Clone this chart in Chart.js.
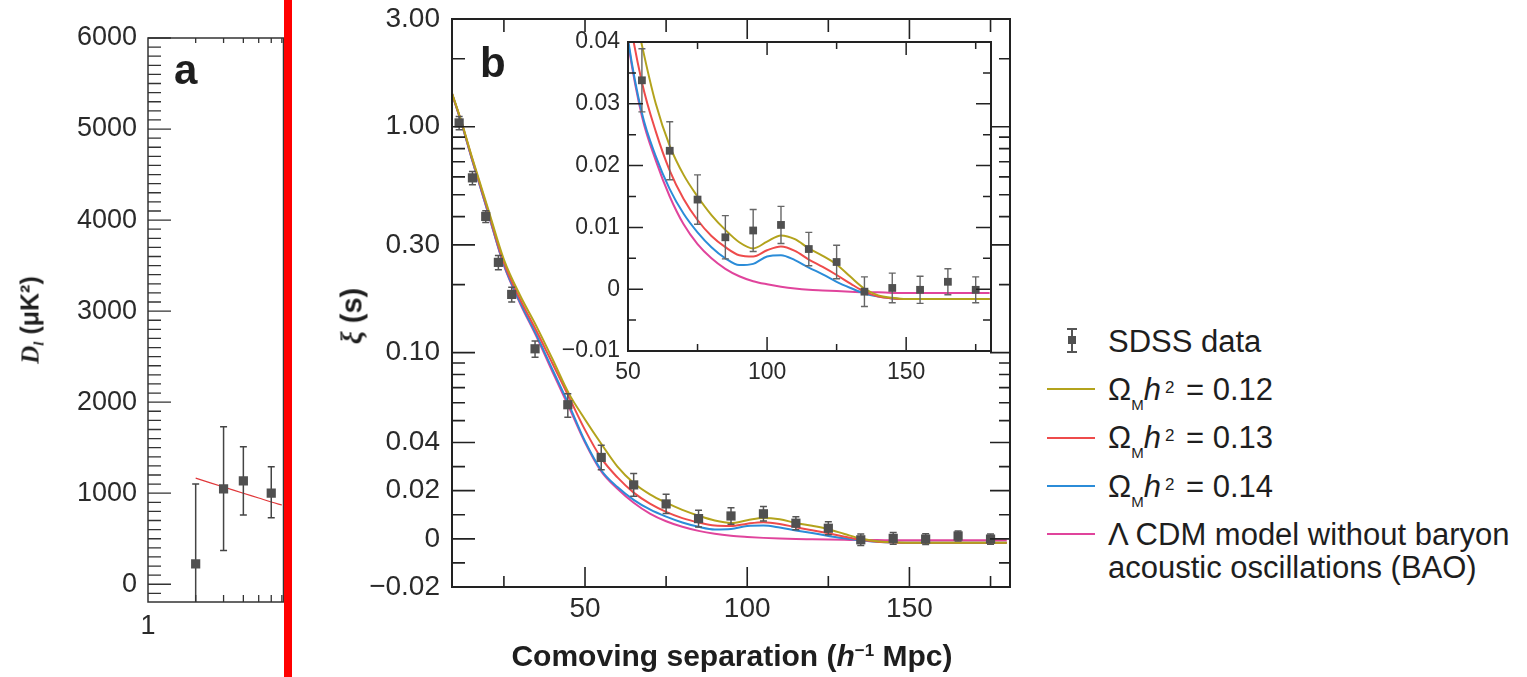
<!DOCTYPE html>
<html lang="en">
<head>
<meta charset="UTF-8">
<title>CMB spectrum and SDSS correlation function</title>
<script src="https://cdn.jsdelivr.net/npm/chart.js"></script>
<style>
  body { margin: 0; background: #fff; font-family: "Liberation Sans", Arial, sans-serif; color: #1e1e1e; }
  #fig { position: relative; width: 1527px; height: 677px; overflow: hidden; background: #fff; }
  .box { position: absolute; }
  .t { position: absolute; white-space: nowrap; }
  .lg { position: absolute; left: 1108px; font-size: 31px; line-height: 31px; white-space: nowrap; }
  .sub { position: relative; top: 10px; font-size: 15px; }
  .sup { position: relative; top: -7px; font-size: 17px; margin-left: 4px; margin-right: 3px; }
  .sw { position: absolute; left: 1047px; width: 48px; height: 2px; }
</style>
</head>
<body>
<div id="fig">
  <div class="box" style="left:0;top:0;width:290px;height:677px"><canvas id="chartA"></canvas></div>
  <div class="box" style="left:340px;top:0;width:680px;height:677px"><canvas id="chartB"></canvas></div>
  <div class="box" style="left:540px;top:20px;width:460px;height:370px"><canvas id="chartInset"></canvas></div>

  <!-- red cut line over panel a -->
  <div class="box" style="left:284px;top:0;width:8px;height:677px;background:#ff0000"></div>

  <!-- panel letters -->
  <div class="t" style="left:174px;top:49px;font:bold 42px/42px 'Liberation Sans'">a</div>
  <div class="t" style="left:480px;top:42px;font:bold 42px/42px 'Liberation Sans'">b</div>

  <!-- axis titles -->
  <div class="t" style="left:32px;top:320px;transform:translate(-50%,-50%) rotate(-90deg);font:bold 25px/25px 'Liberation Sans'">
    <i style="font-family:'Liberation Serif'">D</i><span style="position:relative;top:5px;font-size:15px;font-family:'Liberation Serif';font-style:italic">l</span> (μK²)</div>
  <div class="t" style="left:352px;top:316px;transform:translate(-50%,-50%) rotate(-90deg);font:bold 29px/29px 'Liberation Sans'">
    <i style="font-family:'Liberation Serif'">ξ</i> (s)</div>
  <div class="t" style="left:732px;top:641px;transform:translateX(-50%);font:bold 30px/30px 'Liberation Sans'">
    Comoving separation (<i>h</i><span style="position:relative;top:-10px;font-size:17px">−1</span> Mpc)</div>

  <!-- legend -->
  <div class="box" style="left:1071px;top:328px;width:2px;height:25px;background:#555"></div>
  <div class="box" style="left:1067px;top:328px;width:10px;height:2px;background:#555"></div>
  <div class="box" style="left:1067px;top:351px;width:10px;height:2px;background:#555"></div>
  <div class="box" style="left:1068px;top:336px;width:8px;height:8px;background:#505050"></div>
  <div class="lg" style="top:326px">SDSS data</div>

  <div class="sw" style="top:388px;background:#b3a31c"></div>
  <div class="lg" style="top:374px">Ω<span class="sub">M</span><i>h</i><span class="sup">2</span> = 0.12</div>
  <div class="sw" style="top:437px;background:#ee4b4b"></div>
  <div class="lg" style="top:422px">Ω<span class="sub">M</span><i>h</i><span class="sup">2</span> = 0.13</div>
  <div class="sw" style="top:485px;background:#2b8cd8"></div>
  <div class="lg" style="top:471px">Ω<span class="sub">M</span><i>h</i><span class="sup">2</span> = 0.14</div>
  <div class="sw" style="top:533px;background:#e0449c"></div>
  <div class="lg" style="top:519px">Λ CDM model without baryon</div>
  <div class="lg" style="top:552px">acoustic oscillations (BAO)</div>
</div>

<script>
// ---- panel a (only the low multipoles are visible) ----
const ellA = [2, 3, 4, 6];
const dlA = [223, 1047, 1135, 1000];
const dlLoA = [-1500, 370, 760, 730];
const dlHiA = [1100, 1730, 1510, 1290];
const modelEllA = [2, 3, 4, 5, 6, 7];
const modelDlA = [1165, 1068, 1000, 947, 903, 870];
const xTicksA = [1];
const yTicksA = [0, 1000, 2000, 3000, 4000, 5000, 6000];

// ---- panel b: SDSS redshift-space correlation function ----
const sdssSep = [11.2, 15.3, 19.4, 23.3, 27.4, 34.6, 44.7, 55, 65, 75, 85, 95, 105, 115, 125, 135, 145, 155, 165, 175];
const sdssXi = [1.04, 0.594, 0.401, 0.251, 0.181, 0.104, 0.0588, 0.0338, 0.0224, 0.0145, 0.0084, 0.0095, 0.0104,
  0.0065, 0.0044, -0.0004, 0.0002, -0.0001, 0.0012, -0.0001];
const sdssErr = [0.07, 0.04, 0.024, 0.018, 0.0135, 0.0085, 0.007, 0.0051, 0.0047, 0.004, 0.0035, 0.0034, 0.003,
  0.0027, 0.0027, 0.0024, 0.0024, 0.0022, 0.0021, 0.0021];

const modelSep = [9, 12, 15, 20, 25, 30, 35, 40, 45, 50, 55, 60, 65, 70, 75, 80, 85, 90, 95, 100,
  105, 110, 115, 120, 125, 130, 135, 140, 145, 150, 160, 170, 180];
const xi012 = [1.41, 1.044, 0.746, 0.439, 0.258, 0.179, 0.131, 0.0935, 0.066, 0.0506, 0.0395, 0.0300, 0.0232, 0.0185,
  0.0150, 0.0120, 0.0096, 0.0076, 0.0066, 0.0077, 0.0087, 0.0081, 0.0066, 0.0054, 0.0040, 0.0020, 0.0001,
  -0.0010, -0.0014, -0.0016, -0.0016, -0.0016, -0.0016];
const xi013 = [1.40, 1.039, 0.738, 0.430, 0.250, 0.172, 0.125, 0.0893, 0.0638, 0.0455, 0.0335, 0.0255, 0.0192, 0.0146,
  0.0112, 0.0086, 0.0068, 0.0055, 0.0053, 0.0063, 0.0069, 0.0062, 0.0048, 0.0036, 0.0023, 0.0009, -0.0004,
  -0.0012, -0.0015, -0.0016, -0.0016, -0.0016, -0.0016];
const xi014 = [1.40, 1.03, 0.73, 0.423, 0.245, 0.167, 0.120, 0.084, 0.059, 0.0405, 0.0285, 0.0215, 0.0162, 0.0122,
  0.0092, 0.0068, 0.0050, 0.0039, 0.0041, 0.0053, 0.0055, 0.0047, 0.0035, 0.0024, 0.0012, 0.0002, -0.0007,
  -0.0012, -0.0015, -0.0016, -0.0016, -0.0016, -0.0016];
const xiNoBao = [1.40, 1.03, 0.73, 0.421, 0.243, 0.165, 0.118, 0.082, 0.0576, 0.0400, 0.0280, 0.0208, 0.0150, 0.0105,
  0.0073, 0.0050, 0.0033, 0.0021, 0.0013, 0.0008, 0.0004, 0.0001, -0.0001, -0.0002, -0.0003, -0.0004, -0.0005,
  -0.0005, -0.0006, -0.0006, -0.0006, -0.0006, -0.0006];

const xTicksB = [50, 100, 150];
const yTicksB = [3, 1, 0.3, 0.1, 0.04, 0.02, 0, -0.02];
const yLabelsB = ['3.00', '1.00', '0.30', '0.10', '0.04', '0.02', '0', '−0.02'];
const yMinorB = [2, 0.9, 0.8, 0.7, 0.6, 0.5, 0.4, 0.2, 0.09, 0.08, 0.07, 0.06, 0.05, 0.03, 0.01, -0.01];
const xTicksIn = [50, 100, 150];
const yTicksIn = [0.04, 0.03, 0.02, 0.01, 0, -0.01];
const yLabelsIn = ['0.04', '0.03', '0.02', '0.01', '0', '−0.01'];
const yMinorIn = [0.035, 0.025, 0.015, 0.005, -0.005];

const colors = { c12: '#b3a31c', c13: '#ee4b4b', c14: '#2b8cd8', noBao: '#e0449c' };
const tickColor = '#2a2a2a';
Chart.defaults.font.family = "'Liberation Sans', Arial, sans-serif";

// y axis that is logarithmic above 0.04 and linear below it
const LIN_FROM = 0.04, LIN_RATIO = 0.982;
function tf(v) { return v >= LIN_FROM ? Math.log(v / LIN_FROM) : (v - LIN_FROM) / LIN_FROM * LIN_RATIO; }
function itf(t) { return t >= 0 ? LIN_FROM * Math.exp(t) : LIN_FROM + t * LIN_FROM / LIN_RATIO; }

class LogLinScale extends Chart.Scale {
  static id = 'loglin';
  static defaults = {};
  determineDataLimits() { this.min = this.options.min; this.max = this.options.max; }
  buildTicks() { return []; }
  configure() {
    super.configure();
    this._s = tf(this.min);
    this._r = tf(this.max) - this._s;
  }
  getLabelForValue(v) { return String(v); }
  getPixelForValue(v) { return this.getPixelForDecimal((tf(v) - this._s) / this._r); }
  getValueForPixel(p) { return itf(this._s + this.getDecimalForPixel(p) * this._r); }
}
Chart.register(LogLinScale);

// frame box with inward tick marks
const framePlugin = {
  id: 'frame',
  beforeDraw(chart, args, opts) {
    if (!opts.fill) return;
    const a = chart.chartArea;
    chart.ctx.save();
    chart.ctx.fillStyle = opts.fill;
    chart.ctx.fillRect(a.left, a.top, a.right - a.left, a.bottom - a.top);
    chart.ctx.restore();
  },
  afterDraw(chart, args, opts) {
    if (!opts.marks) return;
    const { ctx, chartArea: a, scales } = chart;
    ctx.save();
    ctx.strokeStyle = opts.color;
    ctx.lineWidth = opts.tickWidth;
    ctx.beginPath();
    opts.marks.forEach(m => {
      const sc = scales[m.axis];
      m.values.forEach(v => {
        const p = sc.getPixelForValue(v);
        if (m.side === 'left') { ctx.moveTo(a.left, p); ctx.lineTo(a.left + m.len, p); }
        else if (m.side === 'right') { ctx.moveTo(a.right, p); ctx.lineTo(a.right - m.len, p); }
        else if (m.side === 'top') { ctx.moveTo(p, a.top); ctx.lineTo(p, a.top + m.len); }
        else { ctx.moveTo(p, a.bottom); ctx.lineTo(p, a.bottom - m.len); }
      });
    });
    ctx.stroke();
    ctx.lineWidth = opts.width;
    ctx.strokeRect(a.left, a.top, a.right - a.left, a.bottom - a.top);
    ctx.restore();
  }
};

// vertical error bars, drawn just before the marker dataset
const errorBarPlugin = {
  id: 'errorBars',
  beforeDatasetDraw(chart, args, opts) {
    const ds = chart.data.datasets[args.index];
    if (!ds.errLo) return;
    const { ctx, chartArea: a } = chart;
    const xs = chart.scales.x, ys = chart.scales.y;
    ctx.save();
    ctx.beginPath();
    ctx.rect(a.left, a.top, a.right - a.left, a.bottom - a.top);
    ctx.clip();
    ctx.strokeStyle = opts.color;
    ctx.lineWidth = opts.width;
    ctx.beginPath();
    ds.data.forEach((pt, i) => {
      const x = xs.getPixelForValue(pt.x);
      const y1 = ys.getPixelForValue(ds.errLo[i]);
      const y2 = ys.getPixelForValue(ds.errHi[i]);
      ctx.moveTo(x, y1); ctx.lineTo(x, y2);
      ctx.moveTo(x - opts.cap, y1); ctx.lineTo(x + opts.cap, y1);
      ctx.moveTo(x - opts.cap, y2); ctx.lineTo(x + opts.cap, y2);
    });
    ctx.stroke();
    ctx.restore();
  }
};
Chart.register(framePlugin, errorBarPlugin);

function fixedTicks(values) {
  return scale => { scale.ticks = values.map(v => ({ value: v })); };
}
// fix the axis box size and drop the label overflow padding, so the plot area is where we want it
function boxHeight(h) {
  return s => { s.height = h; s.paddingLeft = 0; s.paddingRight = 0; };
}
function boxWidth(w) {
  return s => { s.width = w; s.paddingTop = 0; s.paddingBottom = 0; };
}
function tickFont(size) { return { size: size }; }

function sdssDataset(radius) {
  return {
    label: 'SDSS data',
    data: sdssSep.map((x, i) => ({ x: x, y: sdssXi[i] })),
    errLo: sdssXi.map((v, i) => v - sdssErr[i]),
    errHi: sdssXi.map((v, i) => v + sdssErr[i]),
    showLine: false,
    pointStyle: 'rect',
    pointRadius: radius,
    pointBackgroundColor: '#505050',
    pointBorderWidth: 0,
    order: 0
  };
}
function modelDataset(label, ys, color) {
  return {
    label: label,
    data: modelSep.map((x, i) => ({ x: x, y: ys[i] })),
    borderColor: color,
    borderWidth: 2,
    pointRadius: 0,
    cubicInterpolationMode: 'monotone',
    order: 1
  };
}
function modelDatasets() {
  return [
    modelDataset('Ωmh² = 0.12', xi012, colors.c12),
    modelDataset('Ωmh² = 0.13', xi013, colors.c13),
    modelDataset('Ωmh² = 0.14', xi014, colors.c14),
    modelDataset('ΛCDM without BAO', xiNoBao, colors.noBao)
  ];
}

// minor ticks of panel a every 100
const yMinorA = [];
for (let v = -100; v < 6000; v += 100) if (v % 1000 !== 0) yMinorA.push(v);

// ---------- panel a ----------
new Chart(document.getElementById('chartA'), {
  type: 'line',
  data: {
    datasets: [
      {
        label: 'data',
        data: ellA.map((x, i) => ({ x: x, y: dlA[i] })),
        errLo: dlLoA, errHi: dlHiA,
        showLine: false, pointStyle: 'rect', pointRadius: 6.5,
        pointBackgroundColor: '#505050', pointBorderWidth: 0, order: 0
      },
      {
        label: 'model',
        data: modelEllA.map((x, i) => ({ x: x, y: modelDlA[i] })),
        borderColor: '#e0383a', borderWidth: 1.2, pointRadius: 0, tension: 0.3, order: 1
      }
    ]
  },
  options: {
    responsive: true, maintainAspectRatio: false, animation: false,
    layout: { padding: { top: 38, left: 0, right: 0, bottom: 0 } },
    scales: {
      x: {
        type: 'logarithmic', min: 1, max: 7.17,
        afterBuildTicks: fixedTicks(xTicksA),
        afterFit: boxHeight(75),
        grid: { display: false, drawTicks: false }, border: { display: false },
        ticks: { font: tickFont(27), color: tickColor, padding: 8, maxRotation: 0, autoSkip: false, callback: v => String(v) }
      },
      y: {
        type: 'linear', min: -195, max: 6000,
        afterBuildTicks: fixedTicks(yTicksA),
        afterFit: boxWidth(148),
        grid: { display: false, drawTicks: false }, border: { display: false },
        ticks: { font: tickFont(27), color: tickColor, padding: 11, autoSkip: false, callback: v => String(v) }
      }
    },
    plugins: {
      legend: { display: false }, tooltip: { enabled: false },
      errorBars: { color: '#444', width: 1.5, cap: 3.5 },
      frame: {
        color: '#333', width: 1.5, tickWidth: 1.3,
        marks: [
          { axis: 'y', side: 'left', values: yTicksA, len: 23 },
          { axis: 'y', side: 'left', values: yMinorA, len: 13 },
          { axis: 'x', side: 'top', values: [2, 3, 4, 5, 6, 7], len: 5 },
          { axis: 'x', side: 'bottom', values: [2, 3, 4, 5, 6, 7], len: 7 }
        ]
      }
    }
  }
});

// ---------- panel b, main plot ----------
new Chart(document.getElementById('chartB'), {
  type: 'line',
  data: { datasets: [sdssDataset(6.5)].concat(modelDatasets()) },
  options: {
    responsive: true, maintainAspectRatio: false, animation: false,
    layout: { padding: { top: 19, left: 0, right: 10, bottom: 0 } },
    scales: {
      x: {
        type: 'linear', min: 9, max: 181,
        afterBuildTicks: fixedTicks(xTicksB),
        afterFit: boxHeight(90),
        grid: { display: false, drawTicks: false }, border: { display: false },
        ticks: { font: tickFont(28), color: tickColor, padding: 5, maxRotation: 0, autoSkip: false, callback: v => String(v) }
      },
      y: {
        type: 'loglin', min: -0.02, max: 3,
        afterBuildTicks: fixedTicks(yTicksB),
        afterFit: boxWidth(112),
        grid: { display: false, drawTicks: false }, border: { display: false },
        ticks: {
          font: tickFont(28), color: tickColor, padding: 12, autoSkip: false,
          callback: v => { const i = yTicksB.indexOf(v); return i >= 0 ? yLabelsB[i] : ''; }
        }
      }
    },
    plugins: {
      legend: { display: false }, tooltip: { enabled: false },
      errorBars: { color: '#555', width: 1.5, cap: 3.5 },
      frame: {
        color: '#222', width: 2, tickWidth: 1.6,
        marks: [
          { axis: 'y', side: 'left', values: yTicksB, len: 23 },
          { axis: 'y', side: 'left', values: yMinorB, len: 13 },
          { axis: 'y', side: 'right', values: yTicksB, len: 20 },
          { axis: 'y', side: 'right', values: yMinorB, len: 11 },
          { axis: 'x', side: 'bottom', values: [50, 100, 150], len: 20 },
          { axis: 'x', side: 'bottom', values: [25, 75, 125, 175], len: 11 },
          { axis: 'x', side: 'top', values: [100, 150], len: 20 },
          { axis: 'x', side: 'top', values: [25, 50, 75, 125, 175], len: 13 }
        ]
      }
    }
  }
});

// ---------- panel b, inset ----------
new Chart(document.getElementById('chartInset'), {
  type: 'line',
  data: { datasets: [sdssDataset(5.5)].concat(modelDatasets()) },
  options: {
    responsive: true, maintainAspectRatio: false, animation: false,
    layout: { padding: { top: 22, left: 0, right: 9, bottom: 0 } },
    scales: {
      x: {
        type: 'linear', min: 50, max: 180.5,
        afterBuildTicks: fixedTicks(xTicksIn),
        afterFit: boxHeight(39),
        grid: { display: false, drawTicks: false }, border: { display: false },
        ticks: { font: tickFont(23), color: tickColor, padding: 8, maxRotation: 0, autoSkip: false, callback: v => String(v) }
      },
      y: {
        type: 'linear', min: -0.01, max: 0.04,
        afterBuildTicks: fixedTicks(yTicksIn),
        afterFit: boxWidth(88),
        grid: { display: false, drawTicks: false }, border: { display: false },
        ticks: {
          font: tickFont(23), color: tickColor, padding: 8, autoSkip: false,
          callback: v => { const i = yTicksIn.findIndex(t => Math.abs(t - v) < 1e-9); return i >= 0 ? yLabelsIn[i] : ''; }
        }
      }
    },
    plugins: {
      legend: { display: false }, tooltip: { enabled: false },
      errorBars: { color: '#666', width: 1.4, cap: 3.5 },
      frame: {
        fill: '#ffffff',
        color: '#222', width: 2, tickWidth: 1.5,
        marks: [
          { axis: 'y', side: 'left', values: yTicksIn, len: 15 },
          { axis: 'y', side: 'left', values: yMinorIn, len: 8 },
          { axis: 'y', side: 'right', values: yTicksIn, len: 15 },
          { axis: 'y', side: 'right', values: yMinorIn, len: 8 },
          { axis: 'x', side: 'bottom', values: [100, 150], len: 14 },
          { axis: 'x', side: 'bottom', values: [75, 125, 175], len: 7 },
          { axis: 'x', side: 'top', values: [100, 150], len: 13 },
          { axis: 'x', side: 'top', values: [75, 125, 175], len: 7 }
        ]
      }
    }
  }
});
</script>
</body>
</html>
